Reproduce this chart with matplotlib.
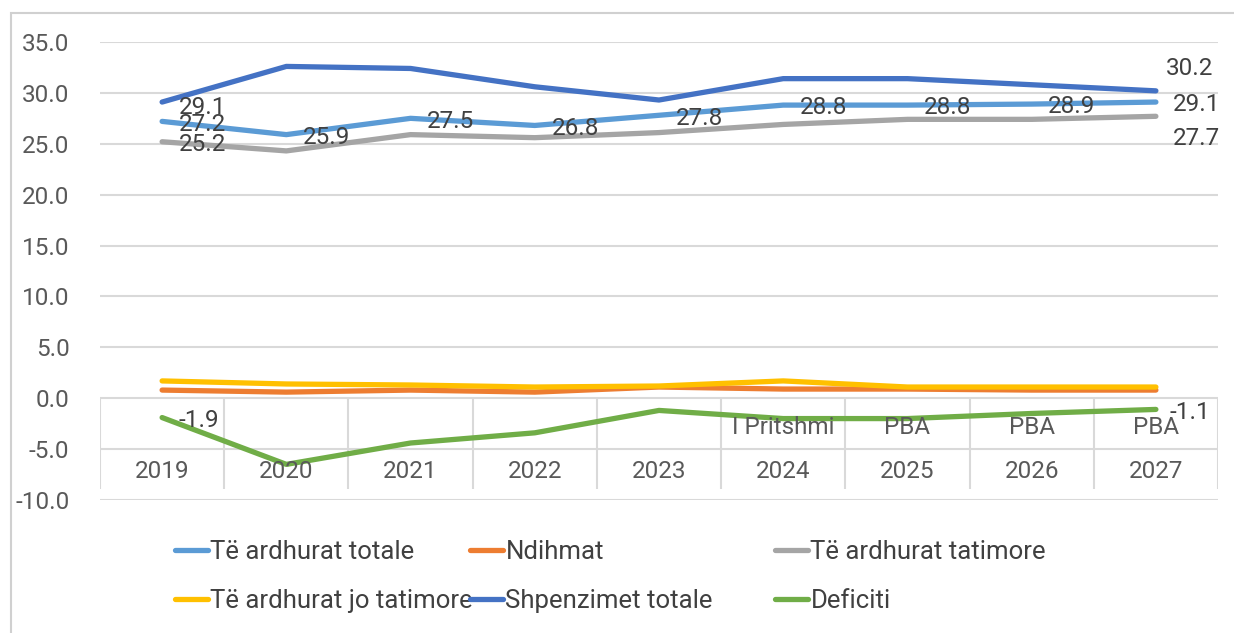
import matplotlib.pyplot as plt
from matplotlib.lines import Line2D
from matplotlib.patches import Rectangle

plt.rcParams["font.family"] = ["Roboto", "DejaVu Sans"]

years = ["2019", "2020", "2021", "2022", "2023", "2024", "2025", "2026", "2027"]
phase = ["", "", "", "", "", "I Pritshmi", "PBA", "PBA", "PBA"]

ardhurat_totale = [27.2, 25.9, 27.5, 26.8, 27.8, 28.8, 28.8, 28.9, 29.1]
ndihmat = [0.8, 0.6, 0.8, 0.6, 1.1, 0.9, 0.9, 0.8, 0.8]
ardhurat_tatimore = [25.2, 24.3, 25.9, 25.6, 26.1, 26.9, 27.4, 27.4, 27.7]
ardhurat_jo_tatimore = [1.7, 1.4, 1.3, 1.1, 1.2, 1.7, 1.1, 1.1, 1.1]
shpenzimet_totale = [29.1, 32.6, 32.4, 30.6, 29.3, 31.4, 31.4, 30.8, 30.2]
deficiti = [-1.9, -6.5, -4.4, -3.4, -1.2, -2.0, -2.0, -1.5, -1.1]

series = [
    ("Të ardhurat totale", ardhurat_totale, "#5B9BD5"),
    ("Ndihmat", ndihmat, "#ED7D31"),
    ("Të ardhurat tatimore", ardhurat_tatimore, "#A5A5A5"),
    ("Të ardhurat jo tatimore", ardhurat_jo_tatimore, "#FFC000"),
    ("Shpenzimet totale", shpenzimet_totale, "#4472C4"),
    ("Deficiti", deficiti, "#70AD47"),
]

# which points get a value label, and the offset (points) of each label
labels = {
    "Të ardhurat totale": {i: (12, -2) for i in range(9)},
    "Të ardhurat tatimore": {0: (12, -2), 8: (12, -16)},
    "Shpenzimet totale": {0: (12, -4), 8: (7, 16)},
    "Deficiti": {0: (12, -2), 8: (10, -2)},
}

TXT = "#404040"
GRID = "#D9D9D9"
FS = 17.5

fig = plt.figure(figsize=(12.34, 6.33), dpi=100)
W, H = 1234, 633
fig.patches.append(Rectangle((11 / W, -0.1), 1.2, 1 - 13 / H + 0.1,
                             transform=fig.transFigure, fill=False,
                             edgecolor="#D0D0D0", linewidth=1.5))

ax = fig.add_axes([100 / W, 1 - 500 / H, 1118 / W, 458 / H])
x = list(range(len(years)))

ax.set_ylim(-10, 35)
ax.set_xlim(-0.5, len(years) - 0.5)
ax.set_yticks(range(-10, 36, 5))
ax.set_yticklabels([f"{v:.1f}" for v in range(-10, 36, 5)], fontsize=FS, color="#595959")
ax.tick_params(axis="y", length=0, pad=22)
ax.set_xticks([])
ax.grid(axis="y", color=GRID, linewidth=1.5)
ax.set_axisbelow(True)
for s in ax.spines.values():
    s.set_visible(False)

# multi-level category axis below zero
ax.vlines([i - 0.5 for i in range(len(years) + 1)], -8.9, 0, color=GRID, linewidth=1.5)
for i in x:
    ax.text(i, -7.2, years[i], ha="center", va="center", fontsize=FS, color="#595959")
    if phase[i]:
        ax.text(i, -2.85, phase[i], ha="center", va="center", fontsize=FS, color="#595959")

handles = []
for name, vals, col in series:
    ax.plot(x, vals, color=col, linewidth=3.8, solid_capstyle="round", label=name)
    handles.append(Line2D([], [], color=col, linewidth=3.8, solid_capstyle="round"))
    for i, off in labels.get(name, {}).items():
        ax.annotate(f"{vals[i]:.1f}", (i, vals[i]), xytext=off, textcoords="offset points",
                    ha="left", va="center", fontsize=FS, color=TXT)

names = [s[0] for s in series]
for c, xpx in enumerate([175, 470, 775]):
    fig.legend([handles[c], handles[c + 3]], [names[c], names[c + 3]],
               loc="upper left", bbox_to_anchor=(xpx / W, 1 - 540 / H),
               frameon=False, fontsize=18.5, handlelength=1.28, handletextpad=0.1,
               labelspacing=0.97, borderpad=0, borderaxespad=0, labelcolor=TXT)

fig.savefig("out.png", dpi=100)
